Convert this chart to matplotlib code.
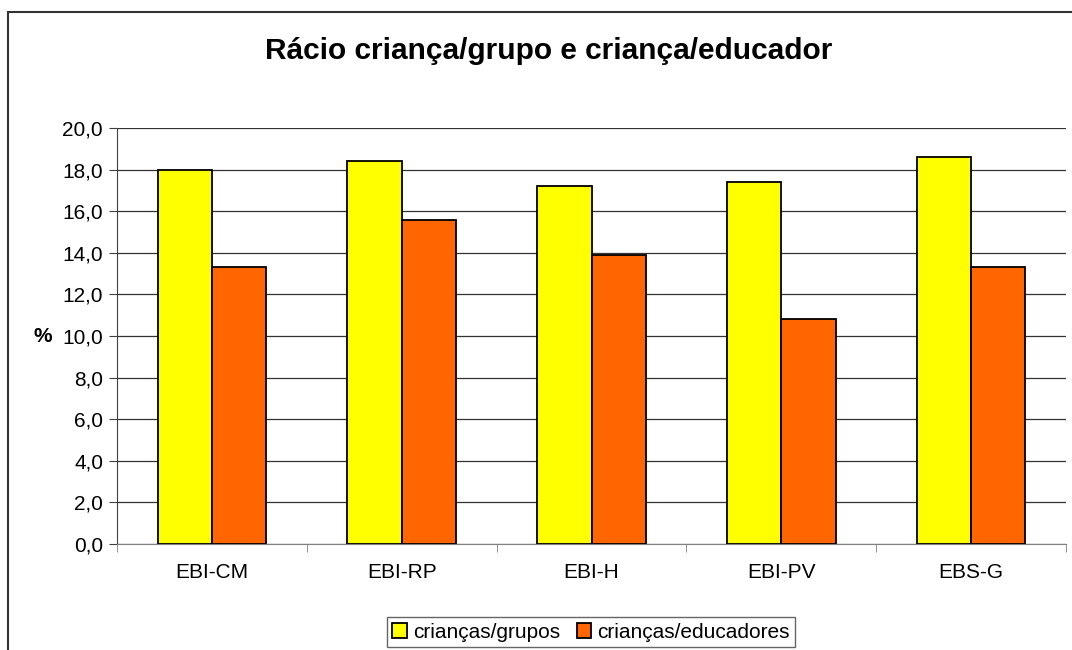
import numpy as np
import matplotlib
matplotlib.use("Agg")
import matplotlib.pyplot as plt
from matplotlib.patches import Rectangle
from matplotlib.ticker import FuncFormatter

plt.rcParams['font.family'] = ['Liberation Sans', 'DejaVu Sans']

# data
schools = ["EBI-CM", "EBI-RP", "EBI-H", "EBI-PV", "EBS-G"]
per_group = [18.0, 18.4, 17.2, 17.4, 18.6]
per_educator = [13.3, 15.6, 13.9, 10.8, 13.3]
series_names = ["crianças/grupos", "crianças/educadores"]
yticks = np.arange(0, 21, 2)

fig = plt.figure(figsize=(10.72, 6.5), dpi=100)
ax = fig.add_axes([117 / 1072, 1 - 544 / 650, (1066 - 117) / 1072, (544 - 128) / 650])

x = np.arange(len(schools))
w = 0.286
ax.bar(x - w / 2, per_group, w, color="#FFFF00", edgecolor="black", linewidth=1.3,
       label=series_names[0], zorder=3)
ax.bar(x + w / 2, per_educator, w, color="#FF6600", edgecolor="black", linewidth=1.3,
       label=series_names[1], zorder=3)

ax.set_xlim(-0.5, len(schools) - 0.5)
ax.set_ylim(0, 20)
ax.set_yticks(yticks)
ax.yaxis.set_major_formatter(FuncFormatter(lambda v, p: f"{v:.1f}".replace(".", ",")))
ax.yaxis.grid(True, color="#333333", linewidth=0.9, zorder=0)
ax.set_axisbelow(True)

ax.set_xticks(x)
ax.set_xticklabels(schools)
ax.set_xticks(np.arange(-0.5, len(schools), 1), minor=True)
ax.tick_params(axis="x", which="major", length=0, pad=14, labelsize=15)
ax.tick_params(axis="x", which="minor", length=6, color="#808080", direction="out")
ax.tick_params(axis="y", length=6, color="#404040", direction="out", labelsize=15, pad=4)

for s in ["top", "right"]:
    ax.spines[s].set_visible(False)
ax.spines["left"].set_color("#404040")
ax.spines["bottom"].set_color("#808080")

ax.set_ylabel("%", rotation=0, fontsize=15, fontweight="bold", labelpad=6, va="center")
ax.yaxis.set_label_coords(-0.078, 0.5)

fig.text(0.5117, 1 - 51 / 650, "Rácio criança/grupo e criança/educador",
         ha="center", va="center", fontsize=21.5, fontweight="bold")

leg = ax.legend(loc="center", bbox_to_anchor=(591 / 1072, 1 - 632 / 650),
                bbox_transform=fig.transFigure, ncol=2, frameon=True, fancybox=False,
                fontsize=15, handlelength=0.7, handleheight=0.7, handletextpad=0.3,
                columnspacing=0.8, borderpad=0.25, borderaxespad=0)
leg.get_frame().set_edgecolor("#404040")
leg.get_frame().set_linewidth(1.0)

# outer chart border (runs off the right and bottom edges)
fig.patches.append(Rectangle((8 / 1072, -0.1), 1.2, 1 - 12 / 650 + 0.1,
                             transform=fig.transFigure, fill=False,
                             edgecolor="#333333", linewidth=1.5))

fig.savefig("out.png", dpi=100)
